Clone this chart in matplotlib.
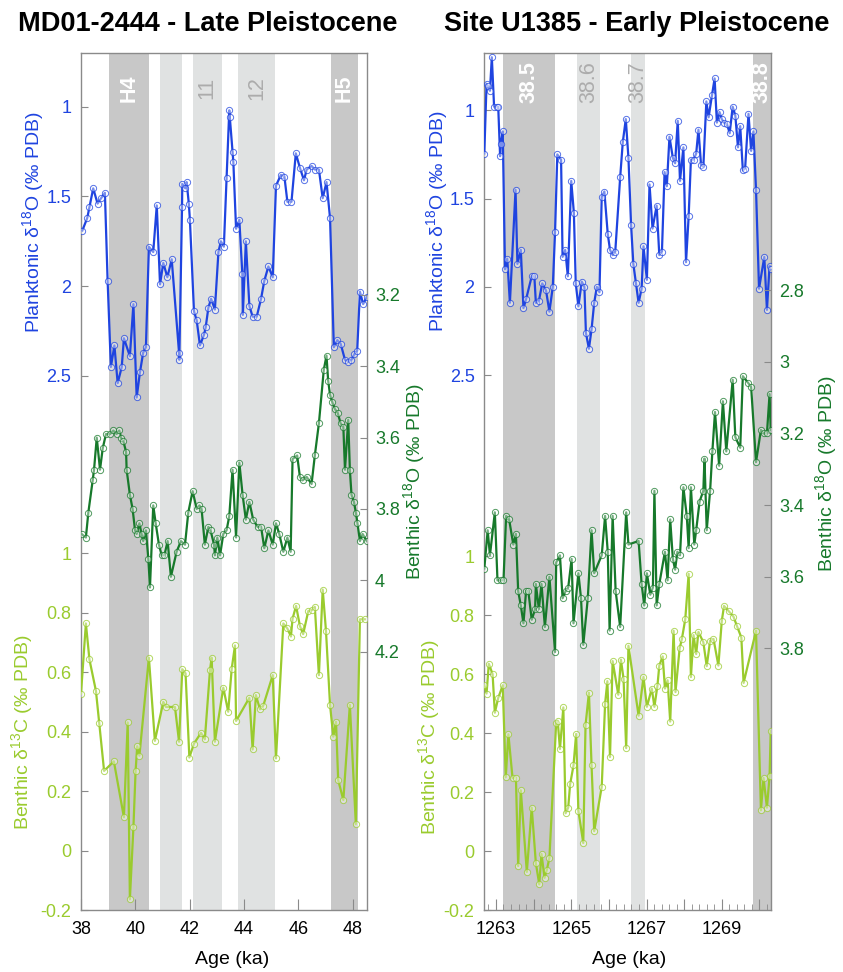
import matplotlib
matplotlib.use("Agg")
import matplotlib.pyplot as plt
from matplotlib.colors import to_rgba
from matplotlib.ticker import MultipleLocator, FixedLocator, FuncFormatter
import matplotlib.transforms as mtransforms

plt.rcParams['font.family'] = ['Liberation Sans', 'DejaVu Sans']
plt.rcParams['mathtext.fontset'] = 'custom'
plt.rcParams['mathtext.rm'] = 'Liberation Sans'
plt.rcParams['mathtext.it'] = 'Liberation Sans:italic'
plt.rcParams['mathtext.bf'] = 'Liberation Sans:bold'

# ---------------- MD01-2444 (Late Pleistocene) ----------------
md_pl_age = [38.05, 38.23, 38.31, 38.45, 38.61, 38.74, 38.88, 38.98, 39.10, 39.23,
             39.35, 39.50, 39.58, 39.80, 39.93, 40.05, 40.17, 40.29, 40.39, 40.50,
             40.66, 40.79, 40.91, 41.03, 41.18, 41.34, 41.61, 41.62, 41.72, 41.73,
             41.84, 41.89, 41.97, 42.01, 42.16, 42.26, 42.38, 42.53, 42.59, 42.69,
             42.79, 42.93, 43.06, 43.15, 43.26, 43.36, 43.46, 43.48, 43.58, 43.61,
             43.71, 43.83, 43.94, 43.96, 44.07, 44.20, 44.32, 44.47, 44.63, 44.75,
             44.90, 45.06, 45.18, 45.36, 45.49, 45.60, 45.75, 45.91, 46.06, 46.21,
             46.31, 46.49, 46.61, 46.76, 46.90, 47.04, 47.17, 47.31, 47.44, 47.56,
             47.72, 47.84, 47.96, 48.06, 48.17, 48.27, 48.39, 48.52]
md_pl_d18o = [1.69, 1.62, 1.56, 1.455, 1.54, 1.51, 1.48, 1.97, 2.45, 2.33,
              2.54, 2.45, 2.29, 2.39, 2.10, 2.62, 2.48, 2.37, 2.34, 1.78,
              1.81, 1.55, 1.99, 1.87, 1.95, 1.85, 2.37, 2.41, 1.56, 1.43,
              1.455, 1.42, 1.54, 1.63, 2.14, 2.19, 2.33, 2.27, 2.23, 2.12,
              2.07, 2.13, 1.81, 1.75, 1.78, 1.40, 1.02, 1.06, 1.25, 1.31,
              1.68, 1.63, 1.93, 2.16, 1.75, 2.11, 2.17, 2.17, 2.07, 1.97,
              1.89, 1.95, 1.44, 1.38, 1.39, 1.53, 1.53, 1.26, 1.34, 1.41,
              1.35, 1.33, 1.35, 1.35, 1.51, 1.42, 1.62, 2.34, 2.30, 2.32,
              2.41, 2.42, 2.41, 2.38, 2.36, 2.03, 2.10, 2.06]

md_bo_age = [38.02, 38.18, 38.27, 38.43, 38.48, 38.58, 38.70, 38.80, 38.92, 39.07,
             39.19, 39.31, 39.41, 39.47, 39.56, 39.66, 39.68, 39.80, 39.90, 39.99,
             40.05, 40.15, 40.23, 40.29, 40.39, 40.48, 40.54, 40.66, 40.75, 40.87,
             40.97, 41.07, 41.19, 41.31, 41.52, 41.68, 41.83, 41.95, 42.11, 42.26,
             42.36, 42.44, 42.56, 42.69, 42.77, 42.90, 42.93, 43.02, 43.12, 43.24,
             43.36, 43.46, 43.58, 43.71, 43.83, 43.95, 44.07, 44.20, 44.34, 44.50,
             44.63, 44.75, 44.90, 45.06, 45.18, 45.30, 45.45, 45.60, 45.72, 45.79,
             45.96, 46.06, 46.16, 46.31, 46.49, 46.61, 46.76, 46.94, 47.04, 47.10,
             47.17, 47.25, 47.35, 47.45, 47.56, 47.66, 47.72, 47.84, 47.90, 47.96,
             48.05, 48.12, 48.18, 48.27, 48.37, 48.52]
md_bo_d18o = [3.87, 3.88, 3.81, 3.72, 3.69, 3.60, 3.69, 3.63, 3.59, 3.59,
              3.58, 3.59, 3.58, 3.60, 3.61, 3.64, 3.69, 3.76, 3.80, 3.86,
              3.87, 3.84, 3.87, 3.89, 3.86, 3.94, 4.02, 3.79, 3.84, 3.90,
              3.93, 3.93, 3.89, 3.99, 3.92, 3.89, 3.90, 3.81, 3.75, 3.80,
              3.79, 3.80, 3.90, 3.85, 3.86, 3.90, 3.93, 3.88, 3.93, 3.87,
              3.86, 3.82, 3.69, 3.88, 3.67, 3.76, 3.83, 3.78, 3.83, 3.85,
              3.85, 3.91, 3.86, 3.90, 3.84, 3.87, 3.92, 3.88, 3.92, 3.66,
              3.65, 3.71, 3.72, 3.71, 3.73, 3.65, 3.56, 3.41, 3.37, 3.44,
              3.48, 3.50, 3.52, 3.53, 3.56, 3.57, 3.69, 3.55, 3.69, 3.76,
              3.78, 3.81, 3.84, 3.89, 3.87, 3.89]

md_c_age = [38.00, 38.18, 38.31, 38.55, 38.67, 38.85, 39.21, 39.58, 39.72, 39.80,
            39.93, 40.01, 40.07, 40.15, 40.50, 40.72, 41.03, 41.13, 41.46, 41.61,
            41.73, 41.85, 41.99, 42.16, 42.42, 42.56, 42.75, 42.81, 42.93, 43.24,
            43.42, 43.55, 43.67, 43.71, 44.20, 44.32, 44.44, 44.59, 44.71, 45.06,
            45.18, 45.45, 45.60, 45.73, 45.79, 45.92, 46.06, 46.18, 46.37, 46.49,
            46.61, 46.76, 46.90, 47.02, 47.17, 47.29, 47.39, 47.47, 47.66, 47.90,
            48.12, 48.27, 48.45]
md_c_d13c = [0.528, 0.764, 0.643, 0.537, 0.43, 0.268, 0.30, 0.112, 0.431, -0.164,
             0.078, 0.267, 0.351, 0.319, 0.649, 0.369, 0.50, 0.483, 0.483, 0.366,
             0.61, 0.596, 0.313, 0.36, 0.396, 0.374, 0.607, 0.649, 0.366, 0.548,
             0.467, 0.612, 0.69, 0.436, 0.514, 0.34, 0.523, 0.475, 0.487, 0.59,
             0.31, 0.764, 0.747, 0.72, 0.78, 0.823, 0.756, 0.728, 0.806, 0.808,
             0.82, 0.59, 0.878, 0.74, 0.49, 0.383, 0.433, 0.237, 0.17, 0.49,
             0.089, 0.778, 0.778]

md_bands = [(39.04, 40.49, 'dark', 'H4'), (40.90, 41.71, 'light', ''),
            (42.11, 43.18, 'light', '11'), (43.78, 45.14, 'light', '12'),
            (47.19, 48.21, 'dark', 'H5')]

# ---------------- Site U1385 (Early Pleistocene) ----------------
u_pl_age = [1262.69, 1262.75, 1262.78, 1262.84, 1262.89, 1262.95, 1263.02, 1263.06, 1263.11, 1263.13,
            1263.18, 1263.24, 1263.30, 1263.37, 1263.52, 1263.57, 1263.66, 1263.73, 1263.80, 1263.95,
            1264.02, 1264.06, 1264.14, 1264.23, 1264.33, 1264.42, 1264.51, 1264.57, 1264.63, 1264.73,
            1264.77, 1264.84, 1264.91, 1265.00, 1265.07, 1265.12, 1265.19, 1265.28, 1265.35, 1265.39,
            1265.47, 1265.54, 1265.61, 1265.68, 1265.75, 1265.81, 1265.88, 1265.97, 1266.03, 1266.10,
            1266.17, 1266.30, 1266.37, 1266.45, 1266.52, 1266.59, 1266.65, 1266.72, 1266.79, 1266.87,
            1266.92, 1267.01, 1267.08, 1267.16, 1267.27, 1267.34, 1267.41, 1267.48, 1267.54, 1267.61,
            1267.70, 1267.76, 1267.83, 1267.89, 1267.98, 1268.05, 1268.12, 1268.18, 1268.25, 1268.32,
            1268.38, 1268.45, 1268.51, 1268.59, 1268.65, 1268.74, 1268.81, 1268.87, 1268.94, 1269.00,
            1269.06, 1269.14, 1269.21, 1269.29, 1269.36, 1269.43, 1269.49, 1269.56, 1269.62, 1269.71,
            1269.78, 1269.84, 1269.91, 1269.99, 1270.13, 1270.20, 1270.27, 1270.30]
u_pl_d18o = [1.245, 0.85, 0.86, 0.89, 0.70, 0.98, 0.98, 0.98, 1.26, 1.19,
             1.12, 1.90, 1.84, 2.09, 1.45, 1.87, 1.79, 2.12, 2.07, 1.94,
             1.94, 2.09, 2.08, 1.98, 2.02, 2.14, 2.00, 1.69, 1.25, 1.28,
             1.83, 1.79, 1.94, 1.40, 1.58, 1.98, 2.11, 1.97, 2.00, 2.26,
             2.35, 2.24, 2.09, 2.00, 2.03, 1.49, 1.46, 1.70, 1.79, 1.82,
             1.80, 1.38, 1.18, 1.05, 1.27, 1.65, 1.87, 1.98, 2.09, 2.01,
             1.77, 1.96, 1.42, 1.67, 1.54, 1.82, 1.80, 1.35, 1.43, 1.15,
             1.27, 1.30, 1.06, 1.40, 1.21, 1.86, 1.60, 1.28, 1.28, 1.245,
             1.11, 1.31, 1.32, 0.95, 1.04, 0.915, 0.82, 1.07, 1.01, 1.05,
             1.07, 1.08, 1.13, 0.98, 1.03, 1.21, 1.09, 1.34, 1.33, 1.02,
             1.23, 1.12, 1.45, 2.01, 1.83, 2.13, 1.88, 1.90]

u_bo_age = [1262.69, 1262.78, 1262.84, 1262.97, 1263.04, 1263.13, 1263.20, 1263.27, 1263.35, 1263.46,
            1263.53, 1263.59, 1263.66, 1263.73, 1263.80, 1263.86, 1263.95, 1264.04, 1264.06, 1264.14,
            1264.21, 1264.30, 1264.42, 1264.57, 1264.60, 1264.70, 1264.77, 1264.85, 1264.92, 1265.01,
            1265.06, 1265.19, 1265.26, 1265.32, 1265.44, 1265.54, 1265.61, 1265.81, 1265.90, 1265.97,
            1266.02, 1266.10, 1266.18, 1266.30, 1266.46, 1266.52, 1266.79, 1266.87, 1266.94, 1267.01,
            1267.10, 1267.17, 1267.21, 1267.27, 1267.34, 1267.49, 1267.56, 1267.63, 1267.70, 1267.76,
            1267.82, 1267.89, 1267.98, 1268.07, 1268.12, 1268.18, 1268.27, 1268.32, 1268.41, 1268.51,
            1268.54, 1268.60, 1268.69, 1268.75, 1268.82, 1268.93, 1269.03, 1269.12, 1269.29, 1269.36,
            1269.49, 1269.56, 1269.71, 1269.78, 1269.91, 1270.04, 1270.11, 1270.20, 1270.27, 1270.30]
u_bo_d18o = [3.577, 3.47, 3.54, 3.42, 3.61, 3.61, 3.61, 3.43, 3.44, 3.51,
             3.48, 3.64, 3.68, 3.73, 3.64, 3.64, 3.72, 3.69, 3.62, 3.69,
             3.62, 3.74, 3.60, 3.81, 3.56, 3.54, 3.66, 3.64, 3.63, 3.55,
             3.73, 3.59, 3.66, 3.79, 3.66, 3.47, 3.59, 3.54, 3.43, 3.53,
             3.75, 3.43, 3.64, 3.74, 3.42, 3.51, 3.50, 3.62, 3.68, 3.59,
             3.65, 3.63, 3.36, 3.68, 3.62, 3.53, 3.61, 3.44, 3.55, 3.58,
             3.53, 3.54, 3.35, 3.43, 3.52, 3.35, 3.51, 3.47, 3.39, 3.36,
             3.27, 3.47, 3.36, 3.25, 3.14, 3.29, 3.11, 3.25, 3.05, 3.21,
             3.24, 3.04, 3.06, 3.07, 3.28, 3.19, 3.20, 3.20, 3.09, 3.19]

u_c_age = [1262.69, 1262.75, 1262.81, 1262.91, 1262.97, 1263.06, 1263.18, 1263.26, 1263.33, 1263.44,
           1263.53, 1263.59, 1263.66, 1263.82, 1263.95, 1264.06, 1264.15, 1264.21, 1264.29, 1264.35,
           1264.42, 1264.60, 1264.64, 1264.70, 1264.79, 1264.85, 1264.92, 1264.97, 1265.06, 1265.13,
           1265.19, 1265.32, 1265.38, 1265.47, 1265.54, 1265.61, 1265.81, 1265.90, 1265.96, 1266.03,
           1266.10, 1266.25, 1266.32, 1266.39, 1266.46, 1266.52, 1266.79, 1266.92, 1267.01, 1267.14,
           1267.21, 1267.29, 1267.34, 1267.43, 1267.49, 1267.56, 1267.63, 1267.72, 1267.77, 1267.88,
           1267.94, 1268.03, 1268.12, 1268.18, 1268.25, 1268.32, 1268.38, 1268.51, 1268.60, 1268.69,
           1268.78, 1268.91, 1269.00, 1269.06, 1269.18, 1269.31, 1269.40, 1269.52, 1269.58, 1269.91,
           1270.04, 1270.11, 1270.20, 1270.27, 1270.30]
u_c_d13c = [0.562, 0.534, 0.635, 0.60, 0.469, 0.519, 0.562, 0.25, 0.396, 0.248,
            0.248, -0.051, 0.206, -0.071, 0.147, -0.041, -0.113, -0.01, -0.091, -0.065,
            -0.023, 0.435, 0.442, 0.346, 0.487, 0.128, 0.147, 0.226, 0.29, 0.397,
            0.136, 0.027, 0.427, 0.537, 0.29, 0.067, 0.218, 0.50, 0.576, 0.319,
            0.644, 0.53, 0.649, 0.584, 0.349, 0.696, 0.459, 0.59, 0.489, 0.551,
            0.489, 0.56, 0.629, 0.66, 0.551, 0.579, 0.439, 0.747, 0.539, 0.687,
            0.719, 0.786, 0.94, 0.59, 0.732, 0.668, 0.743, 0.708, 0.627, 0.713,
            0.719, 0.629, 0.78, 0.831, 0.814, 0.795, 0.764, 0.724, 0.57, 0.747,
            0.138, 0.248, 0.147, 0.254, 0.407]

u_bands = [(1263.18, 1264.57, 'dark', '38.5'), (1265.15, 1265.77, 'light', '38.6'),
           (1266.59, 1266.97, 'light', '38.7'), (1269.82, 1270.40, 'dark', '38.8')]

# ---------------- styling ----------------
BLUE = '#1f44e0'
DKGREEN = '#17792b'
LTGREEN = '#9acb2e'
BAND = {'dark': '#c8c8c8', 'light': '#e0e2e2'}
BAND_TXT = {'dark': ('white', 'bold'), 'light': ('#acacac', 'normal')}
SPINE = '#8a8a8a'
FS = 13
FS_LAB = 14

W, H = 843, 972
fig = plt.figure(figsize=(W / 100, H / 100), dpi=100)


def fx(px):
    return px / W


def fy(py):
    return 1 - py / H


def series(a, x, y, color):
    a.plot(x, y, color=color, lw=1.6, marker='o', ms=4.5,
           mfc=(1, 1, 1, 0.4), mec=to_rgba(color, 0.75), mew=0.7,
           zorder=3, clip_on=True)


def panel(left_px, right_px, xlim, lim_pl, lim_c, lim_bo, pl, bo, c, bands,
          band_ypx, pl_ticks, c_ticks, bo_ticks):
    rect = [fx(left_px), fy(910), (right_px - left_px) / W, (910 - 53) / H]
    ax = fig.add_axes(rect)
    ax_c = ax.twinx()
    ax_bo = ax.twinx()

    ax.set_xlim(*xlim)
    ax.set_ylim(*lim_pl)
    ax_c.set_ylim(*lim_c)
    ax_bo.set_ylim(*lim_bo)

    # climate-event bands
    trans = mtransforms.blended_transform_factory(ax.transData, ax.transAxes)
    for x0, x1, kind, lab in bands:
        ax.axvspan(x0, x1, color=BAND[kind], lw=0, zorder=0)
        if lab:
            col, wt = BAND_TXT[kind]
            ax.text((x0 + min(x1, xlim[1])) / 2, (910 - band_ypx) / 857, lab,
                    transform=trans, rotation=90, ha='center', va='center',
                    color=col, fontweight=wt, fontsize=15.5, zorder=1)

    series(ax, pl[0], pl[1], BLUE)
    series(ax_bo, bo[0], bo[1], DKGREEN)
    series(ax_c, c[0], c[1], LTGREEN)

    # left axes: planktonic d18O and benthic d13C share the left side
    ax.yaxis.set_major_locator(FixedLocator(pl_ticks))
    ax.yaxis.set_major_formatter(FuncFormatter(lambda v, p: f'{v:g}'))
    ax.tick_params(axis='y', direction='in', length=5, color=SPINE,
                   labelcolor=BLUE, labelsize=FS, pad=7)
    ax_c.yaxis.tick_left()
    ax_c.yaxis.set_major_locator(FixedLocator(c_ticks))
    ax_c.yaxis.set_major_formatter(FuncFormatter(lambda v, p: f'{v:g}'))
    ax_c.tick_params(axis='y', direction='in', length=5, color=SPINE,
                     labelcolor=LTGREEN, labelsize=FS, pad=7)
    ax_bo.yaxis.set_major_locator(FixedLocator(bo_ticks))
    ax_bo.yaxis.set_major_formatter(FuncFormatter(lambda v, p: f'{v:g}'))
    ax_bo.tick_params(axis='y', direction='in', length=5, color=SPINE,
                      labelcolor=DKGREEN, labelsize=FS, pad=6)

    ax.tick_params(axis='x', direction='in', length=8, color=SPINE,
                   labelsize=FS, pad=8, top=False)
    ax.tick_params(axis='x', which='minor', direction='in', length=4.5,
                   color=SPINE, top=False)
    for sp in ax.spines.values():
        sp.set_color(SPINE)
        sp.set_linewidth(1.0)
    for a in (ax_c, ax_bo):
        for sp in a.spines.values():
            sp.set_visible(False)
    return ax


# Late Pleistocene panel
axL = panel(81, 366.7, (38, 48.52), (5.475, 0.701), (-0.2, 2.683), (4.924, 2.522),
            (md_pl_age, md_pl_d18o), (md_bo_age, md_bo_d18o), (md_c_age, md_c_d13c),
            md_bands, 88, [1, 1.5, 2, 2.5], [-0.2, 0, 0.2, 0.4, 0.6, 0.8, 1],
            [3.2, 3.4, 3.6, 3.8, 4, 4.2])
axL.set_xticks([38, 40, 42, 44, 46, 48])

# Early Pleistocene panel
axR = panel(484.3, 770.7, (1262.69, 1270.30), (5.527, 0.676), (-0.2, 2.706), (4.530, 2.138),
            (u_pl_age, u_pl_d18o), (u_bo_age, u_bo_d18o), (u_c_age, u_c_d13c),
            u_bands, 82, [1, 1.5, 2, 2.5], [-0.2, 0, 0.2, 0.4, 0.6, 0.8, 1],
            [2.8, 3, 3.2, 3.4, 3.6, 3.8])
axR.xaxis.set_major_locator(MultipleLocator(1))
axR.xaxis.set_minor_locator(MultipleLocator(0.2))
axR.xaxis.set_major_formatter(FuncFormatter(
    lambda v, p: f'{int(round(v))}' if int(round(v)) % 2 == 1 else ''))

# axis titles
lab_pl = 'Planktonic δ$^{18}$O (‰ PDB)'
lab_c = 'Benthic δ$^{13}$C (‰ PDB)'
lab_bo = 'Benthic δ$^{18}$O (‰ PDB)'
for x, y, s, col in [(33, 222, lab_pl, BLUE), (22, 732, lab_c, LTGREEN),
                     (414, 482, lab_bo, DKGREEN),
                     (437, 221, lab_pl, BLUE), (429, 737, lab_c, LTGREEN),
                     (826, 474, lab_bo, DKGREEN)]:
    fig.text(fx(x), fy(y), s, rotation=90, ha='center', va='center',
             color=col, fontsize=FS_LAB)

fig.text(fx(232), fy(959), 'Age (ka)', ha='center', va='center', fontsize=FS_LAB)
fig.text(fx(629), fy(959), 'Age (ka)', ha='center', va='center', fontsize=FS_LAB)

fig.text(fx(208), fy(24), 'MD01-2444 - Late Pleistocene', ha='center', va='center',
         fontsize=19.5, fontweight='bold')
fig.text(fx(636.5), fy(24), 'Site U1385 - Early Pleistocene', ha='center', va='center',
         fontsize=19.5, fontweight='bold')

fig.savefig('out.png', dpi=100)
